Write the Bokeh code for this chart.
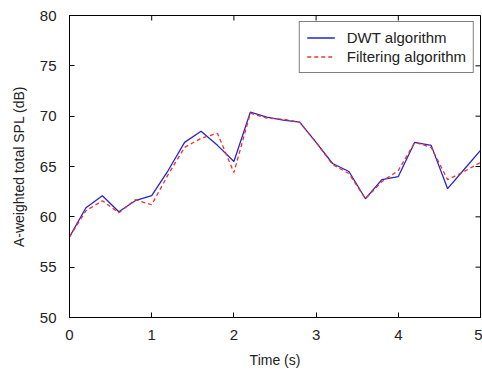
import math
from bokeh.plotting import figure
from bokeh.models import Range1d, FixedTicker, Legend, LegendItem
from bokeh.embed import file_html
from bokeh.resources import INLINE

time_s = [0.0, 0.2, 0.4, 0.6, 0.8, 1.0, 1.2, 1.4, 1.6, 1.8, 2.0, 2.2, 2.4,
          2.6, 2.8, 3.0, 3.2, 3.4, 3.6, 3.8, 4.0, 4.2, 4.4, 4.6, 4.8, 5.0]
dwt_spl = [58.0, 60.9, 62.1, 60.5, 61.6, 62.1, 64.6, 67.4, 68.5, 67.1, 65.5,
           70.4, 69.9, 69.6, 69.4, 67.4, 65.3, 64.5, 61.8, 63.7, 64.0, 67.4,
           67.1, 62.8, 64.7, 66.6]
filt_spl = [58.0, 60.6, 61.6, 60.4, 61.7, 61.2, 64.2, 66.9, 67.8, 68.3, 64.4,
            70.3, 69.8, 69.7, 69.4, 67.4, 65.2, 64.3, 61.8, 63.5, 64.6, 67.4,
            66.9, 63.7, 64.5, 65.4]
x_ticks = [0, 1, 2, 3, 4, 5]
y_ticks = [50, 55, 60, 65, 70, 75, 80]
legend_labels = ["DWT algorithm", "Filtering algorithm"]

X_MIN, X_MAX = 0, 5
Y_MIN, Y_MAX = 50, 80

FONT = "Liberation Sans"
TXT = "#222222"

p = figure(frame_width=411, frame_height=302, output_backend="svg",
           toolbar_location=None, x_range=Range1d(X_MIN, X_MAX),
           y_range=Range1d(Y_MIN, Y_MAX),
           min_border_left=69, min_border_right=2, min_border_top=15,
           min_border_bottom=40)
p.background_fill_color = "white"
p.border_fill_color = "white"
p.outline_line_color = "black"
p.outline_line_width = 1
p.xgrid.visible = False
p.ygrid.visible = False

for ax, ticks in ((p.xaxis[0], x_ticks), (p.yaxis[0], y_ticks)):
    ax.ticker = FixedTicker(ticks=ticks)
    ax.major_tick_in = 5
    ax.major_tick_out = 0
    ax.minor_tick_in = 0
    ax.minor_tick_out = 0
    ax.axis_line_color = "black"
    ax.major_tick_line_color = "black"
    ax.major_label_text_font = FONT
    ax.major_label_text_font_size = "15px"
    ax.major_label_text_color = TXT
    ax.axis_label_text_font = FONT
    ax.axis_label_text_font_size = "14px"
    ax.axis_label_text_font_style = "normal"
    ax.axis_label_text_color = TXT

p.xaxis[0].axis_label = "Time (s)"
p.yaxis[0].axis_label = "A-weighted total SPL (dB)"
p.xaxis[0].major_label_standoff = 12
p.yaxis[0].major_label_standoff = 13
p.xaxis[0].axis_label_standoff = 9
p.yaxis[0].axis_label_standoff = 10

# inward ticks on the top and right edges of the box (MATLAB style)
p.scatter(x=x_ticks, y=[Y_MAX] * len(x_ticks), marker="dash", size=10,
          angle=math.pi / 2, line_color="black", line_width=1)
p.scatter(x=[X_MAX] * len(y_ticks), y=y_ticks, marker="dash", size=10,
          line_color="black", line_width=1)

r1 = p.line(time_s, dwt_spl, line_color="#2525cc", line_width=1.3)
r2 = p.line(time_s, filt_spl, line_color="#f03030", line_width=1.3,
            line_dash="4 3")

legend = Legend(items=[LegendItem(label=legend_labels[0], renderers=[r1]),
                       LegendItem(label=legend_labels[1], renderers=[r2])],
                location="top_right")
legend.label_text_font = FONT
legend.label_text_font_size = "15px"
legend.label_text_color = TXT
legend.border_line_color = "black"
legend.border_line_width = 1
legend.border_radius = 0
legend.glyph_width = 28
legend.glyph_height = 15
legend.label_standoff = 12
legend.label_height = 15
legend.padding = 7
legend.spacing = 2
legend.margin = 6
legend.background_fill_alpha = 1.0
p.add_layout(legend, "center")

open("out.html", "w").write(file_html(p, INLINE))
